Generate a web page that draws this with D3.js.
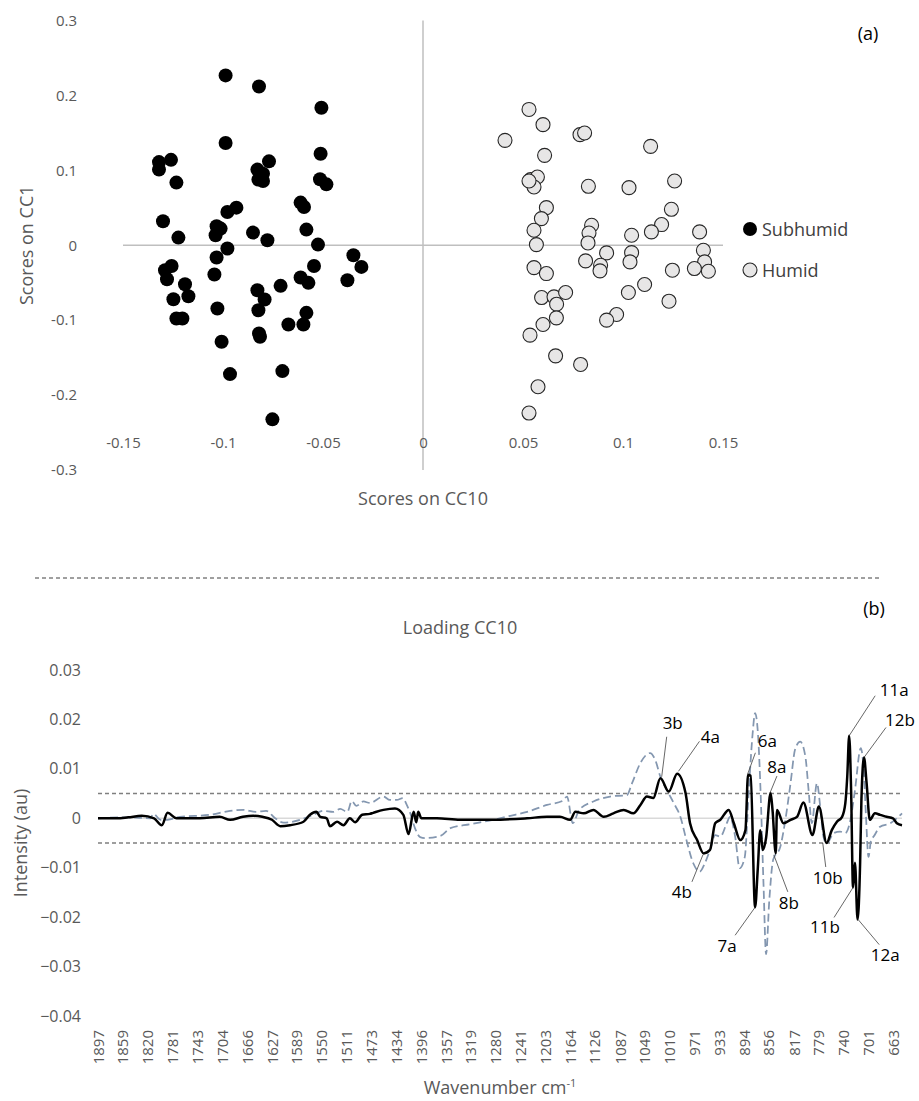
<!DOCTYPE html>
<html>
<head>
<meta charset="utf-8">
<script src="https://cdn.jsdelivr.net/npm/d3@7"></script>
<style>
  body { margin: 0; background: #fff; }
  svg { display: block; font-family: "Open Sans", sans-serif; }
</style>
</head>
<body>
<svg id="chart" width="919" height="1101"></svg>
<script>
// ---- (a) scores: [CC10, CC1]
var subhumid = [[-0.0987,0.2267],[-0.082,0.212],[-0.0508,0.1836],[-0.0987,0.1364],[-0.132,0.111],[-0.132,0.101],
  [-0.126,0.114],[-0.1233,0.0836],[-0.0828,0.101],[-0.077,0.112],[-0.08,0.0956],[-0.0823,0.0876],[-0.08,0.0858],
  [-0.0512,0.1222],[-0.0515,0.088],[-0.0483,0.0813],[-0.13,0.032],[-0.0978,0.0444],[-0.0933,0.0502],[-0.0612,0.0569],
  [-0.0595,0.0511],[-0.1223,0.0102],[-0.1032,0.0253],[-0.1012,0.0222],[-0.1037,0.0133],[-0.085,0.0169],[-0.0778,0.0067],
  [-0.0583,0.0209],[-0.0525,0.0009],[-0.0978,-0.0044],[-0.1032,-0.0164],[-0.1257,-0.0276],[-0.129,-0.0333],[-0.128,-0.0453],
  [-0.119,-0.052],[-0.1173,-0.068],[-0.1248,-0.072],[-0.1233,-0.0978],[-0.1203,-0.0978],[-0.1043,-0.0391],[-0.1028,-0.0844],
  [-0.1007,-0.1289],[-0.0965,-0.172],[-0.0828,-0.06],[-0.0792,-0.0724],[-0.0823,-0.0867],[-0.082,-0.1178],[-0.0815,-0.1222],
  [-0.0712,-0.0542],[-0.0673,-0.1058],[-0.0703,-0.168],[-0.0753,-0.2324],[-0.0612,-0.0431],[-0.0573,-0.0502],[-0.0545,-0.0276],
  [-0.0583,-0.0902],[-0.0598,-0.1058],[-0.0348,-0.0133],[-0.0308,-0.0289],[-0.0378,-0.0467]];

var humid = [[0.053,0.1813],[0.06,0.161],[0.041,0.14],[0.0785,0.1476],[0.0808,0.1498],[0.1138,0.132],[0.0608,0.12],
  [0.0538,0.0876],[0.0572,0.0911],[0.0555,0.0778],[0.053,0.0858],[0.0827,0.0787],[0.103,0.0769],[0.1258,0.0858],
  [0.0617,0.0502],[0.0592,0.0356],[0.0555,0.02],[0.0567,0.0009],[0.0843,0.0267],[0.083,0.0164],[0.0825,0.0031],
  [0.1242,0.048],[0.1193,0.0276],[0.1142,0.0178],[0.1043,0.0133],[0.1383,0.0178],[0.1402,-0.0067],[0.1408,-0.0222],
  [0.1427,-0.0347],[0.1357,-0.0311],[0.1247,-0.0333],[0.1043,-0.0098],[0.1035,-0.0222],[0.0918,-0.0102],[0.0888,-0.0267],
  [0.0885,-0.0342],[0.0813,-0.0209],[0.0555,-0.0298],[0.0617,-0.0378],[0.0593,-0.0698],[0.0655,-0.0689],[0.0713,-0.0631],
  [0.0668,-0.0787],[0.0667,-0.0969],[0.06,-0.1058],[0.0535,-0.12],[0.1027,-0.0631],[0.1108,-0.0524],[0.123,-0.0747],
  [0.0968,-0.0924],[0.0918,-0.1],[0.0663,-0.1476],[0.0788,-0.1591],[0.0575,-0.1889],[0.053,-0.224]];

var scoreXTicks = [-0.15,-0.1,-0.05,0,0.05,0.1,0.15];
var scoreYTicks = [-0.3,-0.2,-0.1,0,0.1,0.2,0.3];

// ---- (b) loading CC10: [wavenumber, intensity]
var loadingBlack = [[1897,0],[1868,0],[1850,0.0002],[1829,0.0005],[1810,0],[1798,-0.0014],[1789,0.0011],[1775,0],
  [1739,0],[1708,0.0003],[1692,-0.0003],[1672,0.0003],[1656,0.0005],[1642,0.0003],[1627,-0.0003],[1614,-0.0016],
  [1599,-0.0014],[1578,-0.0007],[1568,0.0007],[1558,0.0013],[1552,0.0003],[1542,0],[1537,-0.0016],[1526,-0.0007],
  [1516,-0.0014],[1506,0],[1498,-0.0008],[1487,0.0007],[1475,0.0009],[1470,0.0011],[1454,0.0017],[1436,0.002],
  [1423,0.0007],[1415,-0.0032],[1407,0.0013],[1403,-0.0008],[1400,0.0013],[1395,0],[1371,0],[1335,-0.0003],
  [1284,-0.0003],[1231,0],[1200,0.0003],[1180,0.0003],[1164,-0.0003],[1156,0.0013],[1143,0.001],[1128,0.0017],
  [1112,0.0003],[1097,0.001],[1081,0.0017],[1066,0.001],[1055,0.0027],[1045,0.0044],[1035,0.0041],[1024,0.0081],
  [1011,0.0054],[998,0.009],[985,0.0051],[978,-0.001],[967,-0.0044],[957,-0.0071],[947,-0.0064],[939,-0.001],
  [931,-0.0003],[918,0.0017],[910,-0.001],[900,-0.0044],[892,-0.0024],[888,0.0088],[884,0.0086],[877,-0.018],
  [873,-0.0105],[869,-0.0024],[865,-0.0064],[860,-0.004],[853,0.0051],[850,0.0017],[845,-0.0071],[843,0.0017],
  [833,-0.001],[822,-0.0003],[812,0.0003],[802,0.0032],[788,-0.0034],[778,0.0024],[766,-0.005],[758,-0.0024],
  [750,-0.0007],[742,0.0003],[737,0.003],[734,0.0084],[731,0.0167],[728,0.0057],[725,-0.014],[722,-0.009],
  [718,-0.0205],[714,-0.009],[712,0.0037],[708,0.0123],[704,0.0072],[699,-0.0003],[691,0.001],[683,0.0007],
  [673,0.0003],[663,0],[657,-0.001],[649,-0.0014]];

var loadingDashed = [[1897,0],[1850,0.0002],[1816,0],[1811,0.0009],[1800,-0.0003],[1789,-0.0003],[1770,0.0003],
  [1723,0.0007],[1692,0.0015],[1671,0.0017],[1652,0.0013],[1636,0.0015],[1622,0],[1609,-0.0009],[1583,-0.0003],
  [1563,0.0007],[1547,0.0015],[1532,0.0013],[1521,0.0019],[1510,0.0013],[1503,0.0035],[1496,0.0025],[1485,0.0034],
  [1475,0.0031],[1454,0.0044],[1444,0.0037],[1433,0.0037],[1424,0.0041],[1417,0.0025],[1413,0.0013],[1405,-0.002],
  [1397,-0.0038],[1389,-0.004],[1366,-0.0036],[1350,-0.002],[1319,-0.0012],[1283,-0.0003],[1257,0.0005],
  [1231,0.0013],[1200,0.0027],[1175,0.0036],[1169,0.0044],[1160,-0.001],[1150,0.0017],[1128,0.0034],[1102,0.0044],
  [1076,0.0047],[1068,0.0071],[1055,0.0112],[1040,0.0132],[1032,0.0118],[1024,0.0084],[1014,0.0057],[1003,0.003],
  [993,0.0003],[985,-0.0037],[973,-0.0091],[963,-0.0108],[955,-0.0091],[947,-0.0064],[939,-0.0034],[931,-0.0037],
  [921,-0.001],[916,0.0003],[908,-0.0037],[901,-0.0101],[893,-0.0078],[887,0.0051],[881,0.0169],[877,0.0213],
  [872,0.0159],[869,0.0071],[864,-0.0132],[860,-0.0275],[855,-0.0166],[849,-0.0084],[838,-0.0058],[830,-0.0003],
  [822,0.0071],[815,0.0139],[807,0.0155],[799,0.0125],[794,0.0057],[789,-0.001],[781,0.0071],[776,0.0024],
  [771,-0.0037],[766,-0.0051],[755,-0.003],[745,-0.0027],[737,-0.003],[729,-0.0003],[722,0.0057],[713,0.0142],
  [708,0.0088],[705,0.0007],[701,-0.0078],[697,-0.0044],[693,-0.0037],[683,-0.0017],[667,-0.001],[657,0],[649,0.001]];

var wavenumberTicks = [1897,1859,1820,1781,1743,1704,1666,1627,1589,1550,1511,1473,1434,1396,1357,1319,1280,
  1241,1203,1164,1126,1087,1049,1010,971,933,894,856,817,779,740,701,663];
var intensityTicks = [-0.04,-0.03,-0.02,-0.01,0,0.01,0.02,0.03];
var thresholds = [0.005, -0.005];

// band labels: name, target [wavenumber, intensity], leader end offset, text offset (px from target)
var bandLabels = [
  { name: "3b",  at: [1022, 0.0084],  lead: [5, -40],  text: [11, -48] },
  { name: "4a",  at: [996, 0.0095],   lead: [21, -30], text: [32, -28] },
  { name: "6a",  at: [889, 0.0088],   lead: [8, -22],  text: [20, -28] },
  { name: "8a",  at: [854, 0.0051],   lead: [7, -17],  text: [7, -20] },
  { name: "11a", at: [731, 0.0167],   lead: [26, -40], text: [45, -40] },
  { name: "12b", at: [708, 0.0123],   lead: [22, -30], text: [36, -31] },
  { name: "4b",  at: [958, -0.0074],  lead: [-11, 27], text: [-21, 43] },
  { name: "7a",  at: [877, -0.018],   lead: [-20, 28], text: [-28, 45] },
  { name: "8b",  at: [848, -0.0074],  lead: [14, 37],  text: [15, 54] },
  { name: "10b", at: [772, -0.005],   lead: [3, 24],   text: [5, 41] },
  { name: "11b", at: [725, -0.014],   lead: [-19, 30], text: [-28, 46] },
  { name: "12a", at: [717, -0.0205],  lead: [21, 25],  text: [27, 41] }
];

var svg = d3.select("#chart");
var grey = "#595959";

// ================= (a) scatter =================
var xs = d3.scaleLinear().domain([-0.15, 0.15]).range([123, 723]);
var ys = d3.scaleLinear().domain([-0.3, 0.3]).range([470, 20.5]);

var gA = svg.append("g");

gA.append("line")
  .attr("x1", xs(-0.15)).attr("x2", xs(0.15))
  .attr("y1", ys(0)).attr("y2", ys(0))
  .attr("stroke", "#bfbfbf").attr("stroke-width", 1.5);
gA.append("line")
  .attr("x1", xs(0)).attr("x2", xs(0))
  .attr("y1", ys(0.3)).attr("y2", ys(-0.3))
  .attr("stroke", "#bfbfbf").attr("stroke-width", 1.5);

var fmtScore = function(d) { return d === 0 ? "0" : String(d); };

var yAxA = gA.append("g")
  .attr("transform", "translate(77,0)")
  .call(d3.axisLeft(ys).tickValues(scoreYTicks).tickSize(0).tickPadding(0).tickFormat(fmtScore));
yAxA.select(".domain").remove();
yAxA.selectAll("text").attr("fill", grey).style("font-size", "15px").style("font-family", "Open Sans");

var xAxA = gA.append("g")
  .attr("transform", "translate(0,437)")
  .call(d3.axisBottom(xs).tickValues(scoreXTicks).tickSize(0).tickPadding(0).tickFormat(fmtScore));
xAxA.select(".domain").remove();
xAxA.selectAll("text").attr("fill", grey).style("font-size", "15px").style("font-family", "Open Sans");

gA.selectAll(".sub").data(subhumid).enter()
  .append("circle")
  .attr("class", "sub")
  .attr("cx", d => xs(d[0]))
  .attr("cy", d => ys(d[1]))
  .attr("r", 7)
  .attr("fill", "#000");

gA.selectAll(".hum").data(humid).enter()
  .append("circle")
  .attr("class", "hum")
  .attr("cx", d => xs(d[0]))
  .attr("cy", d => ys(d[1]))
  .attr("r", 7)
  .attr("fill", "#e7e6e6")
  .attr("stroke", "#262626")
  .attr("stroke-width", 1.1);

gA.append("text")
  .attr("transform", "translate(33," + ys(0) + ") rotate(-90)")
  .attr("text-anchor", "middle")
  .attr("fill", grey).style("font-size", "18px")
  .text("Scores on CC1");
gA.append("text")
  .attr("x", xs(0)).attr("y", 505)
  .attr("text-anchor", "middle")
  .attr("fill", grey).style("font-size", "18px")
  .text("Scores on CC10");

// legend
var leg = gA.append("g").attr("transform", "translate(750,229)");
leg.append("circle").attr("cx", 0).attr("cy", 0).attr("r", 7).attr("fill", "#000");
leg.append("text").attr("x", 12).attr("y", 7).attr("fill", "#404040").style("font-size", "18px").text("Subhumid");
leg.append("circle").attr("cx", 0).attr("cy", 41).attr("r", 7)
  .attr("fill", "#e7e6e6").attr("stroke", "#262626").attr("stroke-width", 1.1);
leg.append("text").attr("x", 12).attr("y", 48).attr("fill", "#404040").style("font-size", "18px").text("Humid");

gA.append("text").attr("x", 868).attr("y", 40).attr("text-anchor", "middle")
  .style("font-size", "18px").text("(a)");

// separator
svg.append("line")
  .attr("x1", 35).attr("x2", 882).attr("y1", 578).attr("y2", 578)
  .attr("stroke", "#404040").attr("stroke-width", 1).attr("stroke-dasharray", "4,3");

// ================= (b) loading spectrum =================
var xw = d3.scaleLinear().domain([1897, 649]).range([98, 902]);
var yi = d3.scaleLinear().domain([-0.04, 0.03]).range([1016, 670]);

var gB = svg.append("g");

gB.append("text").attr("x", 874).attr("y", 615).attr("text-anchor", "middle")
  .style("font-size", "18px").text("(b)");
gB.append("text").attr("x", 460).attr("y", 634).attr("text-anchor", "middle")
  .attr("fill", grey).style("font-size", "18px").text("Loading CC10");

gB.append("line")
  .attr("x1", xw(1897)).attr("x2", xw(649))
  .attr("y1", yi(0)).attr("y2", yi(0))
  .attr("stroke", "#d9d9d9").attr("stroke-width", 1.5);

gB.selectAll(".thr").data(thresholds).enter()
  .append("line")
  .attr("class", "thr")
  .attr("x1", xw(1897)).attr("x2", xw(649))
  .attr("y1", d => yi(d)).attr("y2", d => yi(d))
  .attr("stroke", "#7f7f7f").attr("stroke-width", 1.5).attr("stroke-dasharray", "4,3");

var yAxB = gB.append("g")
  .attr("transform", "translate(81,0)")
  .call(d3.axisLeft(yi).tickValues(intensityTicks).tickSize(0).tickPadding(0)
    .tickFormat(d => d === 0 ? "0" : d3.format(".2f")(d)));
yAxB.select(".domain").remove();
yAxB.selectAll("text").attr("fill", grey).style("font-size", "16px").style("font-family", "Open Sans");

var xAxB = gB.append("g")
  .attr("transform", "translate(0,1028)")
  .call(d3.axisBottom(xw).tickValues(wavenumberTicks).tickSize(0).tickFormat(d3.format("d")));
xAxB.select(".domain").remove();
xAxB.selectAll("text")
  .attr("transform", "rotate(-90)")
  .attr("text-anchor", "end")
  .attr("x", -2).attr("y", 0).attr("dy", "0.35em")
  .attr("fill", grey).style("font-size", "15px").style("font-family", "Open Sans");

var line = d3.line()
  .x(d => xw(d[0]))
  .y(d => yi(d[1]))
  .curve(d3.curveMonotoneX);

gB.append("path").datum(loadingDashed)
  .attr("d", line)
  .attr("fill", "none")
  .attr("stroke", "#8497b0")
  .attr("stroke-width", 1.75)
  .attr("stroke-dasharray", "8,4");

gB.append("path").datum(loadingBlack)
  .attr("d", line)
  .attr("fill", "none")
  .attr("stroke", "#000")
  .attr("stroke-width", 2.5)
  .attr("stroke-linejoin", "round");

var labs = gB.selectAll(".band").data(bandLabels).enter().append("g").attr("class", "band");
labs.append("line")
  .attr("x1", d => xw(d.at[0])).attr("y1", d => yi(d.at[1]))
  .attr("x2", d => xw(d.at[0]) + d.lead[0]).attr("y2", d => yi(d.at[1]) + d.lead[1])
  .attr("stroke", "#404040").attr("stroke-width", 0.8);
labs.append("text")
  .attr("x", d => xw(d.at[0]) + d.text[0])
  .attr("y", d => yi(d.at[1]) + d.text[1])
  .attr("text-anchor", "middle")
  .style("font-size", "17px")
  .text(d => d.name);

gB.append("text")
  .attr("transform", "translate(27," + yi(-0.005) + ") rotate(-90)")
  .attr("text-anchor", "middle")
  .attr("fill", grey).style("font-size", "18px")
  .text("Intensity (au)");

var xt = gB.append("text")
  .attr("x", 500).attr("y", 1094)
  .attr("text-anchor", "middle")
  .attr("fill", grey).style("font-size", "18px");
xt.append("tspan").text("Wavenumber cm");
xt.append("tspan").attr("dy", -7).style("font-size", "11px").text("-1");
</script>
</body>
</html>
